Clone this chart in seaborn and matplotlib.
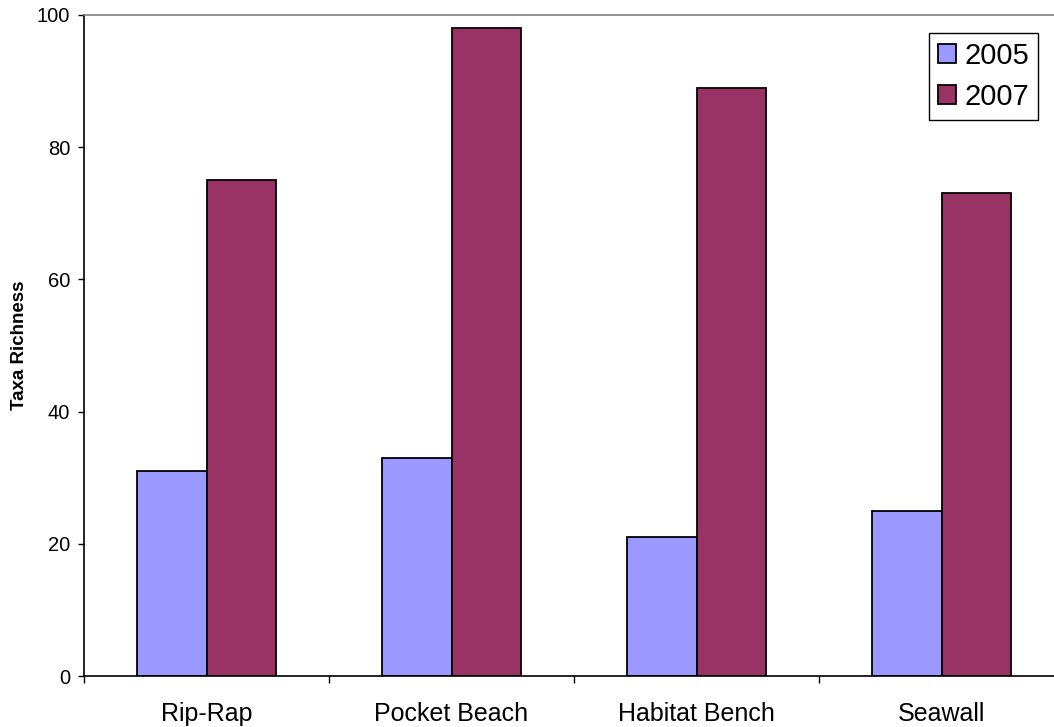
import matplotlib
matplotlib.use("Agg")
import matplotlib.pyplot as plt
import seaborn as sns
import pandas as pd
from matplotlib.ticker import FixedLocator

sites = ["Rip-Rap", "Pocket Beach", "Habitat Bench", "Seawall"]
years = ["2005", "2007"]
richness_2005 = [31, 33, 21, 25]
richness_2007 = [75, 98, 89, 73]
y_ticks = [0, 20, 40, 60, 80, 100]

df = pd.DataFrame({
    "Site": sites * 2,
    "Year": [years[0]] * len(sites) + [years[1]] * len(sites),
    "Taxa Richness": richness_2005 + richness_2007,
})

sns.set_style("white")
plt.rcParams["font.family"] = ["Liberation Sans", "DejaVu Sans"]
plt.rcParams["text.color"] = "black"
plt.rcParams["axes.labelcolor"] = "black"
plt.rcParams["xtick.color"] = "black"
plt.rcParams["ytick.color"] = "black"

fig = plt.figure(figsize=(10.54, 7.27), dpi=100)
ax = fig.add_axes([84 / 1054, 51 / 727, 980 / 1054, 661 / 727])

sns.barplot(
    data=df, x="Site", y="Taxa Richness", hue="Year", order=sites,
    hue_order=years, palette=["#9999FF", "#993366"], width=0.571,
    edgecolor="black", linewidth=1.3, saturation=1, ax=ax,
)

ax.set_ylim(0, 100)
ax.set_xlim(-0.5, 3.5)
ax.set_yticks(y_ticks)
ax.set_xlabel("")
ax.set_ylabel("Taxa Richness", fontsize=13.5, fontweight="bold", labelpad=6)

ax.tick_params(axis="y", which="major", length=4, width=1, color="black",
               direction="out", labelsize=14.5, pad=6, left=True,
               labelcolor="black")
ax.tick_params(axis="x", which="major", length=0, labelsize=18, pad=19,
               labelcolor="black")
ax.xaxis.set_minor_locator(FixedLocator([-0.5, 0.5, 1.5, 2.5]))
ax.tick_params(axis="x", which="minor", length=5, width=1, color="black",
               direction="out", bottom=True)

for side in ["left", "bottom"]:
    ax.spines[side].set_color("black")
    ax.spines[side].set_linewidth(1.2)
ax.spines["top"].set_color("#808080")
ax.spines["top"].set_linewidth(1.2)
ax.spines["right"].set_visible(False)

leg = ax.legend(
    loc="upper right", bbox_to_anchor=(1038 / 1054, 1 - 33 / 727),
    bbox_transform=fig.transFigure, fontsize=21, frameon=True,
    fancybox=False, shadow=False, framealpha=1, edgecolor="black",
    handlelength=0.62, handleheight=0.62, handletextpad=0.3,
    labelspacing=0.45, borderpad=0.3, borderaxespad=0, title=None,
)
leg.get_frame().set_linewidth(1.0)
for txt in leg.get_texts():
    txt.set_color("black")

fig.savefig("out.png", dpi=100)
